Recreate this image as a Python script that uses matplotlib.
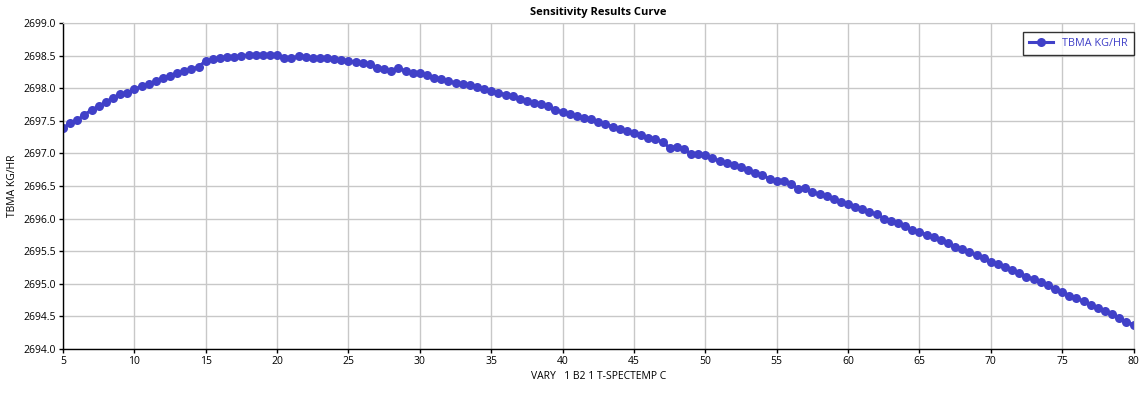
import matplotlib.pyplot as plt
import numpy as np

# Sensitivity data: vary temperature (C) from 5 to 80 in steps of 0.5
temp_c = np.arange(5.0, 80.01, 0.5)

tbma_kg_hr = [
    2697.39, 2697.46, 2697.51, 2697.59, 2697.67, 2697.72, 2697.79, 2697.85, 2697.91, 2697.92,  # 5.0 - 9.5
    2697.98, 2698.03, 2698.06, 2698.11, 2698.16, 2698.19, 2698.23, 2698.27, 2698.29, 2698.33,  # 10.0 - 14.5
    2698.42, 2698.45, 2698.46, 2698.48, 2698.48, 2698.49, 2698.51, 2698.51, 2698.51, 2698.51,  # 15.0 - 19.5
    2698.51, 2698.46, 2698.46, 2698.49, 2698.48, 2698.46, 2698.46, 2698.46, 2698.45, 2698.43,  # 20.0 - 24.5
    2698.42, 2698.40, 2698.39, 2698.37, 2698.31, 2698.29, 2698.26, 2698.31, 2698.26, 2698.23,  # 25.0 - 29.5
    2698.23, 2698.20, 2698.15, 2698.14, 2698.11, 2698.08, 2698.06, 2698.05, 2698.02, 2697.98,  # 30.0 - 34.5
    2697.95, 2697.93, 2697.90, 2697.88, 2697.83, 2697.80, 2697.77, 2697.75, 2697.72, 2697.66,  # 35.0 - 39.5
    2697.64, 2697.60, 2697.57, 2697.54, 2697.52, 2697.48, 2697.45, 2697.41, 2697.37, 2697.34,  # 40.0 - 44.5
    2697.31, 2697.28, 2697.24, 2697.22, 2697.17, 2697.09, 2697.10, 2697.07, 2696.99, 2696.99,  # 45.0 - 49.5
    2696.98, 2696.93, 2696.88, 2696.85, 2696.82, 2696.79, 2696.74, 2696.70, 2696.67, 2696.61,  # 50.0 - 54.5
    2696.58, 2696.57, 2696.53, 2696.46, 2696.47, 2696.41, 2696.37, 2696.34, 2696.30, 2696.26,  # 55.0 - 59.5
    2696.23, 2696.18, 2696.15, 2696.10, 2696.07, 2696.00, 2695.97, 2695.93, 2695.88, 2695.83,  # 60.0 - 64.5
    2695.80, 2695.75, 2695.71, 2695.67, 2695.62, 2695.57, 2695.53, 2695.49, 2695.44, 2695.39,  # 65.0 - 69.5
    2695.34, 2695.30, 2695.25, 2695.21, 2695.17, 2695.11, 2695.07, 2695.02, 2694.98, 2694.92,  # 70.0 - 74.5
    2694.88, 2694.82, 2694.78, 2694.73, 2694.68, 2694.63, 2694.58, 2694.53, 2694.47, 2694.42,  # 75.0 - 79.5
    2694.37,                                                                                    # 80.0
]

x_ticks = np.arange(5, 81, 5)
y_ticks = np.arange(2694.0, 2699.01, 0.5)

plt.rcParams['font.family'] = ['Open Sans', 'DejaVu Sans']
plt.rcParams['font.size'] = 7.5

fig = plt.figure(figsize=(11.48, 3.93), dpi=100)
ax = fig.add_axes([0.0549, 0.112, 0.9325, 0.8295])

line_color = '#4040c8'
ax.plot(temp_c, tbma_kg_hr, color=line_color, linewidth=2.2, marker='o',
        markersize=6.5, markeredgewidth=0, label='TBMA KG/HR')

ax.set_xlim(5, 80)
ax.set_ylim(2694.0, 2699.0)
ax.set_xticks(x_ticks)
ax.set_xticklabels([str(v) for v in x_ticks])
ax.set_yticks(y_ticks)
ax.set_yticklabels([f"{v:.1f}" for v in y_ticks])

ax.grid(True, color='#c8c8c8', linewidth=1.0)
ax.set_axisbelow(True)
for side in ['top', 'right']:
    ax.spines[side].set_color('#c8c8c8')
for side in ['left', 'bottom']:
    ax.spines[side].set_color('black')
    ax.spines[side].set_linewidth(1.0)
ax.tick_params(direction='out', length=3, width=1, pad=2, colors='black')

ax.set_title('Sensitivity Results Curve', fontsize=8, fontweight='bold', pad=6)
ax.set_xlabel('VARY   1 B2 1 T-SPECTEMP C', labelpad=3)
ax.set_ylabel('TBMA KG/HR', labelpad=4)

# legend box sits flush against the right edge of the plot area
leg = ax.legend(loc='upper right', frameon=True, fancybox=False, borderpad=0.55,
                handlelength=2.2, borderaxespad=0.0, bbox_to_anchor=(1.0, 0.972),
                fontsize=7.8)
leg.get_frame().set_edgecolor('black')
leg.get_frame().set_linewidth(1.0)
for txt in leg.get_texts():
    txt.set_color(line_color)

plt.savefig('out.png', dpi=100)
